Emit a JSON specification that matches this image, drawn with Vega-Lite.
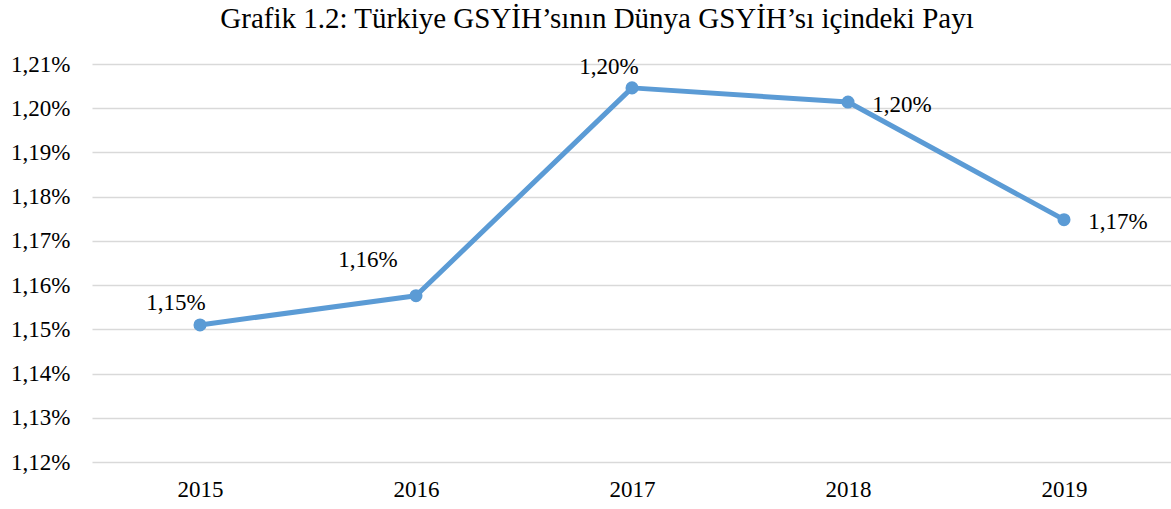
{
  "$schema": "https://vega.github.io/schema/vega-lite/v6.json",
  "width": 1080,
  "height": 398,
  "autosize": {"type": "none"},
  "padding": {"left": 92, "top": 64, "right": 0, "bottom": 47},
  "background": "white",
  "title": {
    "text": "Grafik 1.2: Türkiye GSYİH’sının Dünya GSYİH’sı içindeki Payı",
    "font": "Liberation Serif",
    "fontSize": 29,
    "fontWeight": "normal",
    "color": "#000000",
    "anchor": "middle",
    "frame": "group",
    "dx": -35,
    "offset": 19
  },
  "data": {
    "values": [
      {"year": "2015", "share": 1.1510, "label": "1,15%"},
      {"year": "2016", "share": 1.1576, "label": "1,16%"},
      {"year": "2017", "share": 1.2046, "label": "1,20%"},
      {"year": "2018", "share": 1.2014, "label": "1,20%"},
      {"year": "2019", "share": 1.1748, "label": "1,17%"}
    ]
  },
  "encoding": {
    "x": {
      "field": "year",
      "type": "ordinal",
      "scale": {"paddingInner": 0, "paddingOuter": 0, "align": 0.5},
      "axis": {
        "title": null,
        "labelAngle": 0,
        "labelFont": "Liberation Serif",
        "labelFontSize": 23,
        "labelColor": "#000000",
        "labelPadding": 16,
        "ticks": false,
        "domain": false,
        "grid": false
      }
    },
    "y": {
      "field": "share",
      "type": "quantitative",
      "scale": {"domain": [1.12, 1.21], "nice": false, "zero": false},
      "axis": {
        "title": null,
        "values": [1.12, 1.13, 1.14, 1.15, 1.16, 1.17, 1.18, 1.19, 1.20, 1.21],
        "labelExpr": "replace(format(datum.value, '.2f'), '.', ',') + '%'",
        "labelFont": "Liberation Serif",
        "labelFontSize": 23,
        "labelColor": "#000000",
        "labelPadding": 22,
        "ticks": false,
        "domain": false,
        "grid": true,
        "gridColor": "#d9d9d9",
        "gridWidth": 1.5
      }
    }
  },
  "layer": [
    {
      "mark": {"type": "line", "color": "#5b9bd5", "strokeWidth": 5, "strokeCap": "round", "strokeJoin": "round"}
    },
    {
      "mark": {"type": "circle", "color": "#5b9bd5", "opacity": 1, "size": 170}
    },
    {
      "transform": [{"filter": "datum.year == '2015'"}],
      "mark": {"type": "text", "font": "Liberation Serif", "fontSize": 23, "color": "#000000", "align": "center", "baseline": "middle", "dx": -24, "dy": -22},
      "encoding": {"text": {"field": "label"}}
    },
    {
      "transform": [{"filter": "datum.year == '2016'"}],
      "mark": {"type": "text", "font": "Liberation Serif", "fontSize": 23, "color": "#000000", "align": "center", "baseline": "middle", "dx": -48, "dy": -36},
      "encoding": {"text": {"field": "label"}}
    },
    {
      "transform": [{"filter": "datum.year == '2017'"}],
      "mark": {"type": "text", "font": "Liberation Serif", "fontSize": 23, "color": "#000000", "align": "center", "baseline": "middle", "dx": -23, "dy": -21},
      "encoding": {"text": {"field": "label"}}
    },
    {
      "transform": [{"filter": "datum.year == '2018'"}],
      "mark": {"type": "text", "font": "Liberation Serif", "fontSize": 23, "color": "#000000", "align": "center", "baseline": "middle", "dx": 54, "dy": 3},
      "encoding": {"text": {"field": "label"}}
    },
    {
      "transform": [{"filter": "datum.year == '2019'"}],
      "mark": {"type": "text", "font": "Liberation Serif", "fontSize": 23, "color": "#000000", "align": "center", "baseline": "middle", "dx": 54, "dy": 2},
      "encoding": {"text": {"field": "label"}}
    }
  ],
  "config": {"view": {"stroke": null}}
}
